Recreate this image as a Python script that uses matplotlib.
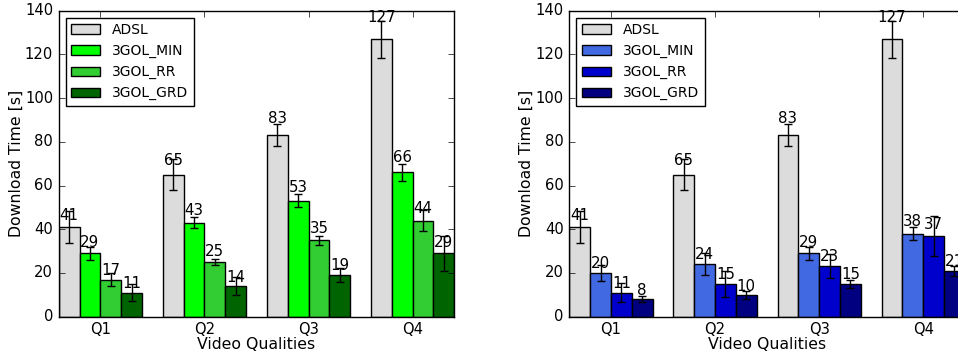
import matplotlib
matplotlib.use("Agg")
import matplotlib.pyplot as plt
import numpy as np

plt.style.use("classic")
plt.rcParams["font.family"] = ["DejaVu Sans"]

qualities = ["Q1", "Q2", "Q3", "Q4"]
series = ["ADSL", "3GOL_MIN", "3GOL_RR", "3GOL_GRD"]

# Mean download times [s] and their error half-widths
green_means = {
    "ADSL": [41, 65, 83, 127],
    "3GOL_MIN": [29, 43, 53, 66],
    "3GOL_RR": [17, 25, 35, 44],
    "3GOL_GRD": [11, 14, 19, 29],
}
green_errs = {
    "ADSL": [7.5, 7, 5, 8.5],
    "3GOL_MIN": [3, 2.5, 3, 4],
    "3GOL_RR": [3, 1.5, 2, 5],
    "3GOL_GRD": [4, 4.2, 3.3, 8],
}
blue_means = {
    "ADSL": [41, 65, 83, 127],
    "3GOL_MIN": [20, 24, 29, 38],
    "3GOL_RR": [11, 15, 23, 37],
    "3GOL_GRD": [8, 10, 15, 21],
}
blue_errs = {
    "ADSL": [7.5, 7, 5, 8.5],
    "3GOL_MIN": [3.5, 5, 3, 3],
    "3GOL_RR": [4.5, 6, 5.5, 9],
    "3GOL_GRD": [1.5, 1.7, 1.7, 2.3],
}

green_colors = ["#dcdcdc", "#00ff00", "#32cd32", "#006400"]
blue_colors = ["#dcdcdc", "#4169e1", "#0000cd", "#000080"]

TICK_FS = 10.6
LABEL_FS = 11.3
VALUE_FS = 10.8
LEGEND_FS = 10
W, H = 958, 355
fig = plt.figure(figsize=(W / 100, H / 100), dpi=100, facecolor="white")

ax_w = 395.6 / W
ax_h = 306.0 / H
ax_b = 38.3 / H
axes = [
    fig.add_axes([58.7 / W, ax_b, ax_w, ax_h]),
    fig.add_axes([569.3 / W, ax_b, ax_w, ax_h]),
]

width = 0.2
x = np.arange(len(qualities))


def draw(ax, means, errs, colors):
    handles = []
    for k, name in enumerate(series):
        bars = ax.bar(x + k * width, means[name], width, color=colors[k],
                      edgecolor="black", linewidth=1.0, align="edge",
                      yerr=errs[name], ecolor="black",
                      error_kw=dict(capsize=2.7, elinewidth=1.0, capthick=1.0))
        handles.append(bars)
        for rect, v in zip(bars, means[name]):
            ax.text(rect.get_x() + rect.get_width() / 2.0, 1.05 * v, "%d" % v,
                    ha="center", va="bottom", fontsize=VALUE_FS)
    ax.set_xlim(0, 3.8)
    ax.set_ylim(0, 140)
    ax.set_yticks(np.arange(0, 141, 20))
    ax.set_xticks(x + 2 * width)
    ax.set_xticklabels(qualities)
    ax.tick_params(labelsize=TICK_FS, direction="in", length=4, top=True, right=True)
    ax.set_xlabel("Video Qualities", fontsize=LABEL_FS, labelpad=0)
    ax.set_ylabel("Download Time [s]", fontsize=LABEL_FS, labelpad=1)
    leg = ax.legend([h[0] for h in handles], series, loc="upper left",
                    fontsize=LEGEND_FS, fancybox=False, shadow=False,
                    handlelength=2.1, handletextpad=0.85, labelspacing=0.5,
                    borderpad=0.4, borderaxespad=0.5)
    leg.get_frame().set_linewidth(1.0)


draw(axes[0], green_means, green_errs, green_colors)
draw(axes[1], blue_means, blue_errs, blue_colors)

fig.savefig("out.png", dpi=100, facecolor="white")
